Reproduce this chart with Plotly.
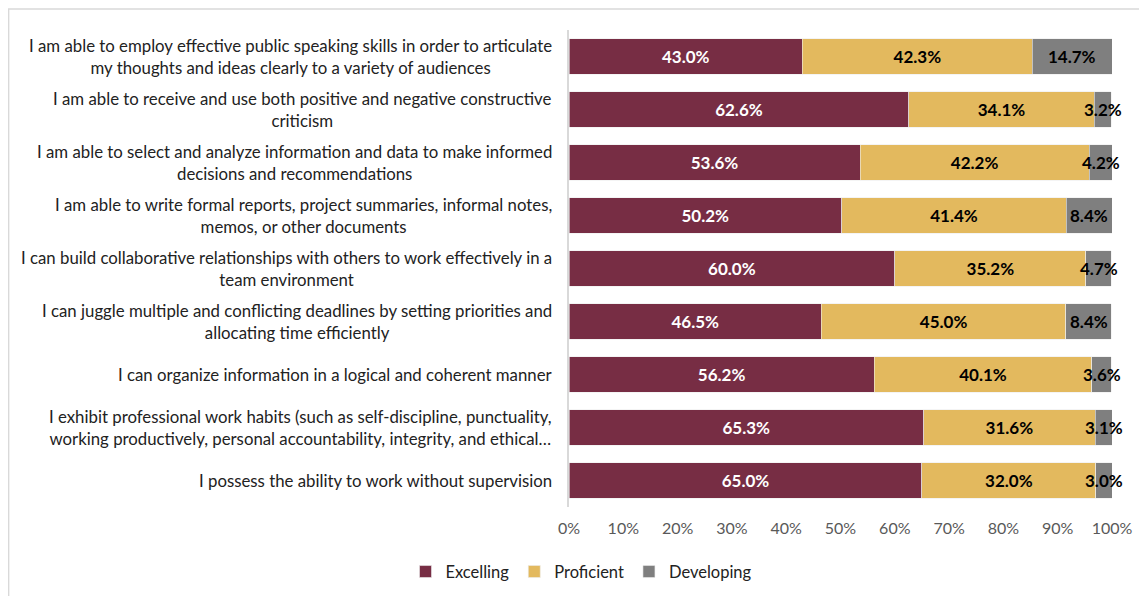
import plotly.graph_objects as go

categories = [
    "I am able to employ effective public speaking skills in order to articulate<br>my thoughts and ideas clearly to a variety of audiences",
    "I am able to receive and use both positive and negative constructive<br>criticism",
    "I am able to select and analyze information and data to make informed<br>decisions and recommendations",
    "I am able to write formal reports, project summaries, informal notes,<br>memos, or other documents",
    "I can build collaborative relationships with others to work effectively in a<br>team environment",
    "I can juggle multiple and conflicting deadlines by setting priorities and<br>allocating time efficiently",
    "I can organize information in a logical and coherent manner",
    "I exhibit professional work habits (such as self-discipline, punctuality,<br>working productively, personal accountability, integrity, and ethical…",
    "I possess the ability to work without supervision",
]
excelling = [43.0, 62.6, 53.6, 50.2, 60.0, 46.5, 56.2, 65.3, 65.0]
proficient = [42.3, 34.1, 42.2, 41.4, 35.2, 45.0, 40.1, 31.6, 32.0]
developing = [14.7, 3.2, 4.2, 8.4, 4.7, 8.4, 3.6, 3.1, 3.0]
x_ticks = [0, 10, 20, 30, 40, 50, 60, 70, 80, 90, 100]

ids = list(range(len(categories)))
FONT = "Lato"
LBL = 17

def trace(name, vals, color, txtcolor, show_text=True):
    return go.Bar(
        y=ids, x=vals, name=name, orientation="h",
        marker=dict(color=color, line=dict(color="#ececec", width=0.6)),
        text=[f"{v:.1f}%" for v in vals] if show_text else None,
        textposition="inside" if show_text else "none",
        insidetextanchor="middle",
        textangle=0, constraintext="none", cliponaxis=False,
        textfont=dict(family=FONT, size=LBL, color=txtcolor, weight="bold"),
        hoverinfo="skip",
    )

fig = go.Figure()
fig.add_trace(trace("Excelling", excelling, "#772D44", "white"))
fig.add_trace(trace("Proficient", proficient, "#E3B95E", "black"))
fig.add_trace(trace("Developing", developing, "#7F7F7F", "black", show_text=False))

# Developing labels centered on their segments (they overflow the thin bars)
for i in ids:
    start = excelling[i] + proficient[i]
    fig.add_annotation(
        x=start + developing[i] / 2, xref="x", y=i, yref="y",
        text=f"<b>{developing[i]:.1f}%</b>", showarrow=False,
        xanchor="center", yanchor="middle",
        font=dict(family=FONT, size=LBL, color="black"),
    )

for i, c in enumerate(categories):
    fig.add_annotation(
        x=0, xref="paper", y=i, yref="y", text=c, showarrow=False,
        xanchor="right", yanchor="middle", align="center", xshift=-15,
        font=dict(family=FONT, size=16.8, color="#222222"),
    )

fig.add_shape(type="rect", xref="paper", yref="paper",
              x0=-1.032, x1=1.2, y0=-0.3, y1=1.044,
              line=dict(color="#d9d9d9", width=1.5), fillcolor="rgba(0,0,0,0)", layer="below")

fig.update_layout(
    width=1147, height=596,
    margin=dict(l=561, r=43, t=22, b=97),
    barmode="stack", bargap=0.33,
    plot_bgcolor="white", paper_bgcolor="white",
    font=dict(family=FONT),
    xaxis=dict(range=[0, 100], tickvals=x_ticks, ticktext=[f"{t}%" for t in x_ticks],
               showgrid=False, zeroline=False, showline=False,
               tickfont=dict(family=FONT, size=16, color="#595959"),
               ticks="outside", ticklen=7, tickcolor="rgba(0,0,0,0)"),
    yaxis=dict(autorange="reversed", showticklabels=False, showgrid=False, zeroline=False,
               showline=True, linecolor="#d9d9d9", linewidth=1.5, ticks=""),
    legend=dict(orientation="h", xref="container", yref="container",
                x=0.5, xanchor="center", y=0.054, yanchor="middle",
                font=dict(family=FONT, size=16.5, color="#222222"),
                traceorder="normal", itemwidth=30),
    showlegend=True,
)

fig.write_html("out.html")
